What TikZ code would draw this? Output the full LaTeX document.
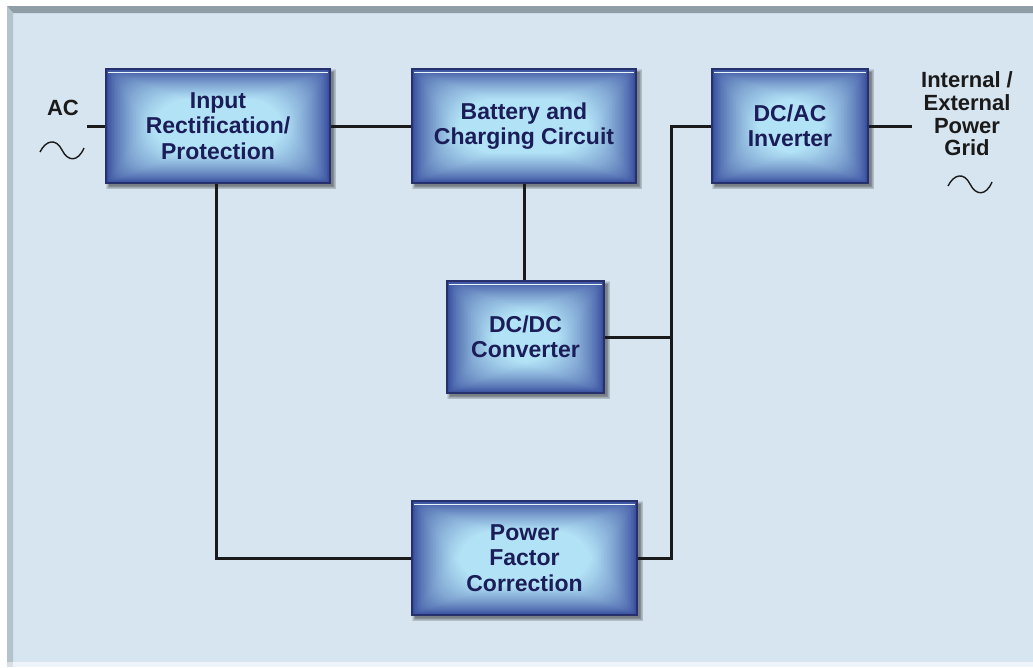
\documentclass[tikz,border=0pt]{standalone}
\usepackage{fontspec}
\setmainfont{Liberation Sans}
\definecolor{bgmain}{HTML}{D7E5F0}
\definecolor{bgtop}{HTML}{8F9DA7}
\definecolor{bgleft}{HTML}{B4C2CB}
\definecolor{bgbot}{HTML}{EEF4F9}
\definecolor{boxdark}{HTML}{34499B}
\definecolor{boxlight}{HTML}{B2E2F6}
\definecolor{boxedge}{HTML}{26306C}
\definecolor{boxtext}{HTML}{1B1D58}
\definecolor{wire}{HTML}{1A1A1A}
\pgfdeclarelayer{bg}
\pgfdeclarelayer{lines}
\pgfsetlayers{bg,lines,main}
\newcommand\boxshade[1]{%
  \foreach \k in {0,...,5}{
    \fill[black, opacity=0.09]
      ([shift={(1pt+\k*0.6pt,-1pt-\k*0.6pt)}]#1.north west)
      rectangle ([shift={(5.5pt-\k*0.6pt,-5.5pt+\k*0.6pt)}]#1.south east);
  }%
}
\tikzset{
  blockbox/.style={
    draw=boxedge, line width=1.2pt, minimum width=#1, inner sep=0pt,
    align=center, text=boxtext,
    font=\fontsize{23}{25.5}\selectfont\bfseries,
    path picture={
      \fill[boxdark] (path picture bounding box.north west) rectangle (path picture bounding box.south east);
      \foreach \i in {1,...,30}{
        \pgfmathsetmacro\p{100*(\i/30)^0.75}
        \fill[boxlight!\p!boxdark, rounded corners=\i*1.2pt]
          ([shift={(\i*1.5pt,-\i*1.0pt)}]path picture bounding box.north west)
          rectangle ([shift={(-\i*1.5pt,\i*1.0pt)}]path picture bounding box.south east);
      }
      \draw[line width=1.6pt, white!70!boxlight]
        ([shift={(2pt,-3.5pt)}]path picture bounding box.north west)
        -- ([shift={(-2pt,-3.5pt)}]path picture bounding box.north east);
      \draw[line width=2pt, boxedge]
        (path picture bounding box.south west) -- (path picture bounding box.south east);
    }
  },
  wireline/.style={draw=wire, line width=3pt},
  tildeline/.style={draw=wire, line width=1.4pt},
  outlabel/.style={text=wire, align=center, font=\fontsize{22}{22.6}\selectfont\bfseries},
}
\begin{document}
\begin{tikzpicture}[x=1pt, y=-1pt]
\useasboundingbox (0,0) rectangle (1033,667);
\begin{pgfonlayer}{bg}
  \fill[white] (0,0) rectangle (1033,667);
  \fill[bgmain] (7,6) rectangle (1033,662);
  \fill[bgtop] (7,6) -- (1033,6) -- (1033,13) -- (13,13) -- cycle;
  \fill[bgleft] (7,6) -- (13,13) -- (13,662) -- (7,662) -- cycle;
  \fill[bgbot] (13,662) rectangle (1033,667);
  \fill[bgbot!60!bgleft] (7,662) -- (13,662) -- (13,667) -- (7,667) -- cycle;
\end{pgfonlayer}

\node[blockbox=224pt, minimum height=114pt] (in) at (218,126) {Input\\Rectification/\\Protection};
\node[blockbox=224pt, minimum height=114pt] (bat) at (524,126) {Battery and\\Charging Circuit};
\node[blockbox=156pt, minimum height=114pt] (dcac) at (790,126) {DC/AC\\Inverter};
\node[blockbox=157pt, minimum height=112pt] (dcdc) at (525.5,337) {DC/DC\\Converter};
\node[blockbox=225pt, minimum height=114pt] (pfc) at (524.5,558) {Power\\Factor\\Correction};

\node[outlabel] (aclab) at (63,108) {AC};
\node[outlabel] (gridlab) at (967,114) {Internal /\\External\\Power\\Grid};

\coordinate (acend) at (87,126);
\coordinate (gridend) at (912,126);
\coordinate (b1) at (671,126);
\coordinate (b2) at (671,337);
\coordinate (b3) at (671,558);

\begin{pgfonlayer}{lines}
  \boxshade{in}
  \boxshade{bat}
  \boxshade{dcac}
  \boxshade{dcdc}
  \boxshade{pfc}
  \draw[wireline] (acend) -- (in.west);
  \draw[wireline] (in.east) -- (bat.west);
  \draw[wireline] (bat.south) -- (bat.south |- dcdc.north);
  \draw[wireline] (dcac.west) -- (b1) -- (b3) -- (pfc.east);
  \draw[wireline] (dcdc.east) -- (b2);
  \draw[wireline] (dcac.east) -- (gridend);
  \draw[wireline] ([xshift=-2pt]in.south) |- (pfc.west);
\end{pgfonlayer}

% tildes
\draw[tildeline] (40,152) .. controls (46,140) and (56,138) .. (62,150)
                         .. controls (68,162) and (78,162) .. (84,148);
\draw[tildeline] (948,186) .. controls (954,174) and (964,172) .. (970,184)
                         .. controls (976,196) and (986,196) .. (992,182);
\end{tikzpicture}
\end{document}
